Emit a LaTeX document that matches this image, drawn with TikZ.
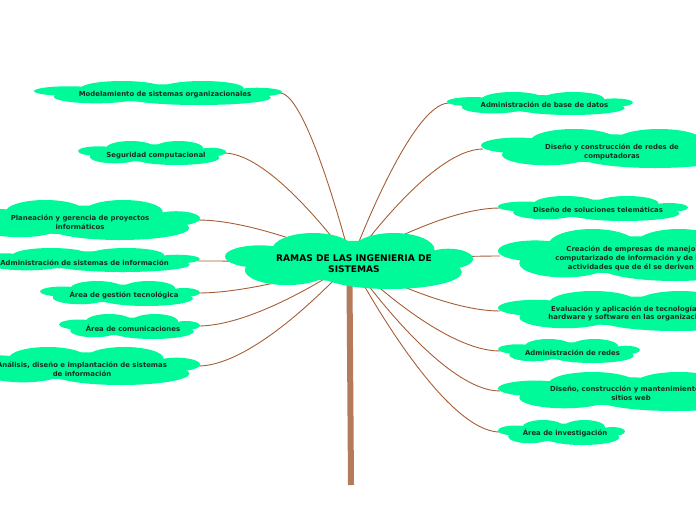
\documentclass[tikz,border=0pt]{standalone}
\usepackage{fontspec}
\setmainfont{DejaVu Sans}
\usetikzlibrary{calc}
\definecolor{cloudc}{RGB}{0,250,154}
\definecolor{linkc}{RGB}{165,95,55}
\definecolor{trunkc}{RGB}{180,122,90}
\definecolor{txtc}{RGB}{22,48,36}
\newcommand\mycloud[4]{%
 \pgfmathsetmacro\cxa{#1}\pgfmathsetmacro\cya{#2}\pgfmathsetmacro\cw{#3}\pgfmathsetmacro\ch{#4}%
 \fill[cloudc] ({\cxa+0.5*\cw},{\cya+0.5*\ch}) ellipse [x radius={0.38*\cw*1pt}, y radius={0.36*\ch*1pt}];
 \fill[cloudc] ({\cxa+0.14*\cw},{\cya+0.42*\ch}) ellipse [x radius={0.14*\cw*1pt}, y radius={0.2*\ch*1pt}];
 \fill[cloudc] ({\cxa+0.355*\cw},{\cya+0.3*\ch}) ellipse [x radius={0.165*\cw*1pt}, y radius={0.3*\ch*1pt}];
 \fill[cloudc] ({\cxa+0.68*\cw},{\cya+0.3*\ch}) ellipse [x radius={0.165*\cw*1pt}, y radius={0.3*\ch*1pt}];
 \fill[cloudc] ({\cxa+0.9*\cw},{\cya+0.46*\ch}) ellipse [x radius={0.1*\cw*1pt}, y radius={0.18*\ch*1pt}];
 \fill[cloudc] ({\cxa+0.25*\cw},{\cya+0.66*\ch}) ellipse [x radius={0.17*\cw*1pt}, y radius={0.27*\ch*1pt}];
 \fill[cloudc] ({\cxa+0.665*\cw},{\cya+0.7*\ch}) ellipse [x radius={0.29*\cw*1pt}, y radius={0.3*\ch*1pt}];
}
\tikzset{
 leaf/.style={text=txtc, font=\fontsize{6.9}{8.6}\selectfont\bfseries, align=center, inner sep=0pt},
 hubtext/.style={text=black, font=\fontsize{9.1}{11}\selectfont\bfseries, align=center, inner sep=0pt},
 link/.style={draw=linkc, line width=0.9pt},
 trunk/.style={draw=trunkc, line width=6pt},
}
\begin{document}
\begin{tikzpicture}[x=1pt,y=-1pt]
\useasboundingbox (0,0) rectangle (696,520);
\coordinate (hub) at (351,262);
% connector endpoints (left)
\coordinate (l1) at (280,93);
\coordinate (l2) at (224,153);
\coordinate (l3) at (198,220);
\coordinate (l4) at (198,261);
\coordinate (l5) at (198,293);
\coordinate (l6) at (198,326);
\coordinate (l7) at (198,366);
% right
\coordinate (r1) at (449,103);
\coordinate (r2) at (483,149);
\coordinate (r3) at (500,208);
\coordinate (r4) at (500,256);
\coordinate (r5) at (500,311);
\coordinate (r6) at (500,351);
\coordinate (r7) at (500,391);
\coordinate (r8) at (500,432);
% connectors
\foreach \c/\d in {l1/28,l2/50,l3/61,l4/61,l5/61,l6/61,l7/61,r1/-39,r2/-53,r3/-60,r4/-60,r5/-60,r6/-60,r7/-60,r8/-60}{
  \draw[link] (\c) .. controls ($(\c)+(\d,0)$) and (hub) .. (hub);
}
\coordinate (ttop) at (349.5,280);
\coordinate (tbot) at (351,485);
\draw[trunk] (ttop) -- (tbot);
% clouds
\mycloud{225}{233}{248}{56}
\mycloud{34}{81}{248}{24}
\mycloud{78}{141}{148}{24}
\mycloud{-40}{200}{240}{40}
\mycloud{-31}{248}{231}{24}
\mycloud{40}{281}{160}{25}
\mycloud{59}{314}{141}{25}
\mycloud{-36}{347}{236}{38}
\mycloud{447}{92}{186}{23}
\mycloud{481}{129}{262}{39}
\mycloud{498}{196}{190}{25}
\mycloud{498}{229}{266}{52}
\mycloud{498}{291}{268}{40}
\mycloud{498}{339}{142}{24}
\mycloud{498}{372}{266}{39}
\mycloud{498}{420}{127}{25}
% texts
\node[hubtext] (center) at (354,264) {RAMAS DE LAS INGENIERIA DE\\SISTEMAS};
\node[leaf] (t1) at (165,95) {Modelamiento de sistemas organizacionales};
\node[leaf] (t2) at (156,156) {Seguridad computacional};
\node[leaf] (t3) at (80,222.5) {Planeación y gerencia de proyectos\\informáticos};
\node[leaf] (t4) at (84.5,262.5) {Administración de sistemas de información};
\node[leaf] (t5) at (124,295) {Área de gestión tecnológica};
\node[leaf] (t6) at (133,328) {Área de comunicaciones};
\node[leaf] (t7) at (82,369.5) {Análisis, diseño e implantación de sistemas\\de información};
\node[leaf] (t8) at (544.5,105) {Administración de base de datos};
\node[leaf] (t9) at (612,152) {Diseño y construcción de redes de\\computadoras};
\node[leaf] (t10) at (598,210) {Diseño de soluciones telemáticas};
\node[leaf] (t11) at (631,258.5) {Creación de empresas de manejo\\computarizado de información y de las\\actividades que de él se deriven};
\node[leaf] (t12) at (632,313.5) {Evaluación y aplicación de tecnologías de\\hardware y software en las organizaciones};
\node[leaf] (t13) at (572.5,353) {Administración de redes};
\node[leaf] (t14) at (631,393.5) {Diseño, construcción y mantenimiento de\\sitios web};
\node[leaf] (t15) at (565,433) {Área de investigación};
\end{tikzpicture}
\end{document}
